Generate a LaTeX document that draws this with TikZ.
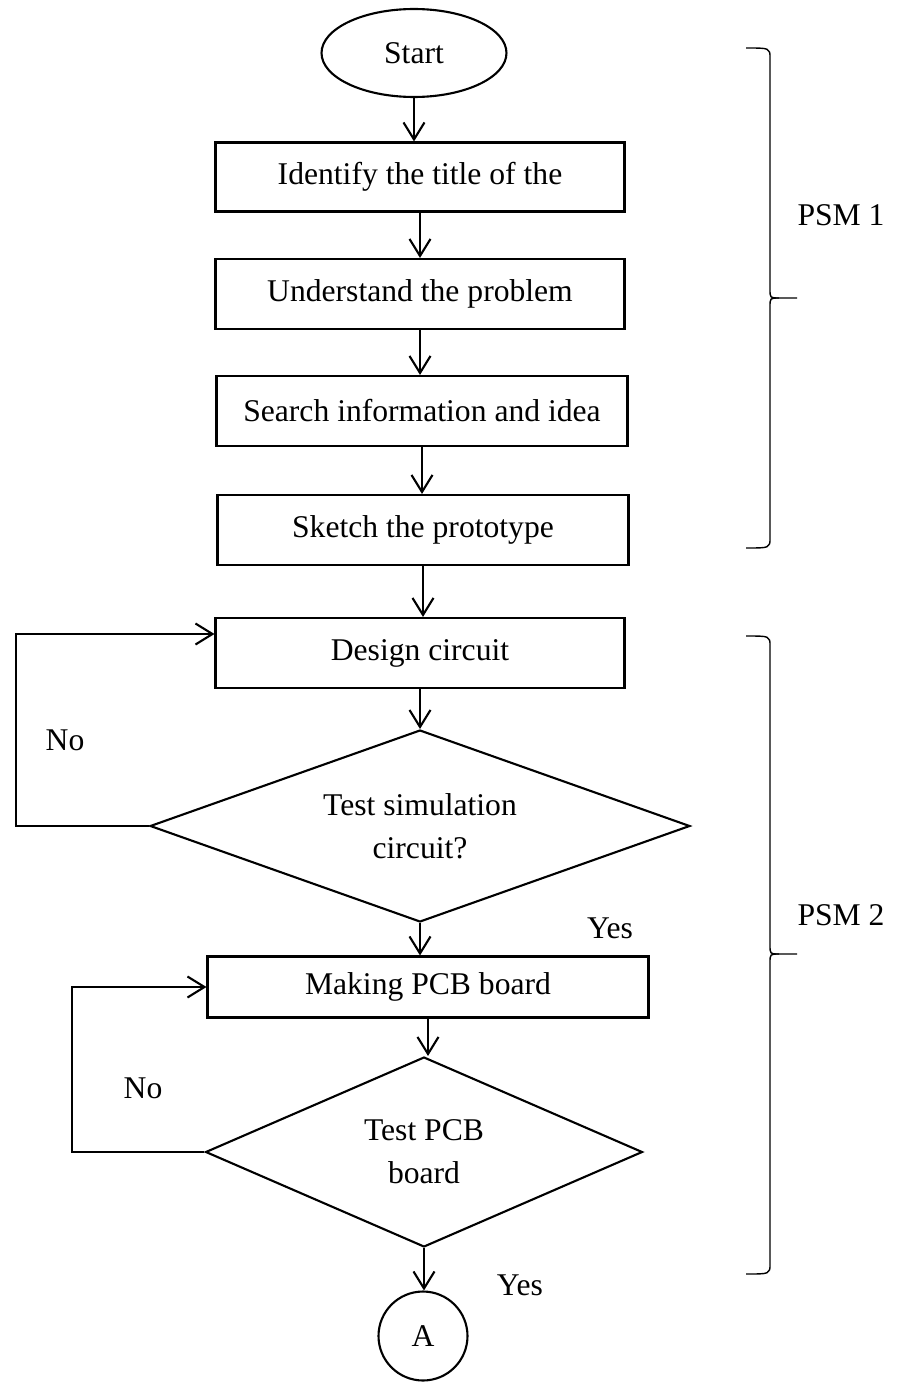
\documentclass[tikz,border=0pt]{standalone}
\usepackage{fontspec}
\setmainfont{Liberation Serif}
\usetikzlibrary{shapes.geometric,arrows.meta}

\begin{document}
\begin{tikzpicture}[x=0.02cm,y=-0.02cm,line width=1.2pt,
  >={Straight Barb[length=0.34cm,width=0.42cm]}]
\fontsize{18}{24.4}\selectfont
\newcommand\vaihe[5]{
\draw[line width=0.8pt] (746,#1) .. controls (770,#1) .. (770,{#1+10}) -- (770,{#2-9})
  .. controls (770,#2) .. (779,#2) -- (797,#2);
\draw[line width=0.8pt] (779,#2) .. controls (770,#2) .. (770,{#2+9}) -- (770,{#3-10})
  .. controls (770,#3) .. (746,#3);
\node at (841,#4) {#5};
}
\useasboundingbox (0,0) rectangle (907,1382);
\node[draw, ellipse, minimum width=3.7cm, minimum height=1.76cm] (1) at (414,53) {Start};
\node[draw, minimum width=8.18cm, minimum height=1.38cm] (2) at (420,177) {Identify the title of the};
\node[draw, minimum width=8.18cm, minimum height=1.4cm] (3) at (420,294) {Understand the problem};
\node[draw, minimum width=8.22cm, minimum height=1.4cm] (4) at (422,411) {Search information and idea};
\node[draw, minimum width=8.22cm, minimum height=1.4cm] (5) at (423,530) {Sketch the prototype};
\node[draw, minimum width=8.18cm, minimum height=1.4cm] (6) at (420,653) {Design circuit};
\node[draw, diamond, aspect=2.8, minimum width=10.8cm, minimum height=3.84cm, inner sep=0, align=center] (7) at (420,826) {Test simulation\\circuit?};
\node[draw, minimum width=8.82cm, minimum height=1.22cm] (8) at (428,987) {Making PCB board};
\node[draw, diamond, aspect=2.3, minimum width=8.74cm, minimum height=3.8cm, inner sep=0, align=center] (9) at (424,1152) {Test PCB\\board};
\node[draw, circle, minimum size=1.78cm, inner sep=0] (10) at (423,1336) {A};
\path[draw,->] (1) -- (1 |- 2.north);
\path[draw,->] (2) -- (2 |- 3.north);
\path[draw,->] (3) -- (3 |- 4.north);
\path[draw,->] (4) -- (4 |- 5.north);
\path[draw,->] (5) -- (5 |- 6.north);
\path[draw,->] (6) -- (6 |- 7.north);
\path[draw,->] (7) -- (7 |- 8.north);
\path[draw,->] (8) -- (8 |- 9.north);
\path[draw,->] (9) -- (9 |- 10.north);
\path[draw,->] (7.west) -- (16,826) |- ([yshift=0.38cm]6.west);
\path[draw,->] (9.west) -- (72,1152) |- (8.west);
\node at (65,740) {No};
\node at (610,928) {Yes};
\node at (143,1088) {No};
\node at (520,1285) {Yes};
\vaihe{48}{298}{548}{215}{PSM 1}
\vaihe{636}{954}{1274}{915}{PSM 2}
\end{tikzpicture}
\end{document}
